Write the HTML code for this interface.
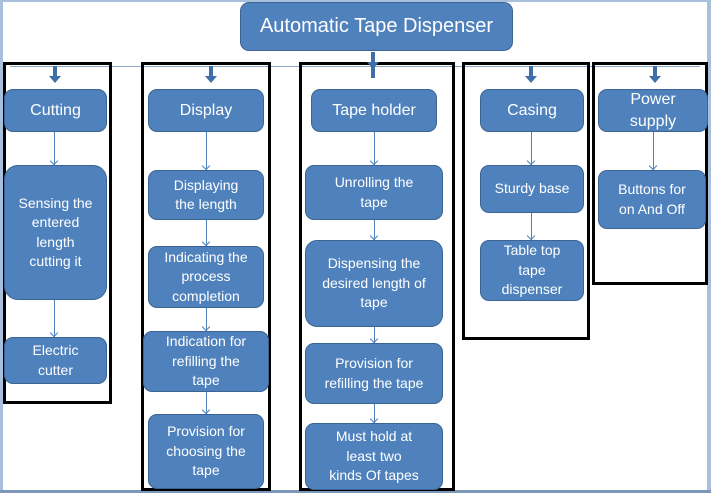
<!DOCTYPE html>
<html><head><meta charset="utf-8"><style>
body{margin:0;width:711px;height:493px;overflow:hidden;background:#fff;position:relative;font-family:"Liberation Sans",sans-serif}
.b{position:absolute;background:#4f81bd;border:1.5px solid #3b6494;border-radius:9px;color:#fff;font-size:14px;line-height:19.5px;text-align:center;display:flex;align-items:center;justify-content:center;box-sizing:border-box}
.f{position:absolute;border:3px solid #000;box-sizing:border-box}
.ar{position:absolute;width:4px;height:12px;background:#3f6ea8}
.ar:after{content:"";position:absolute;left:-4px;top:10px;border-left:6px solid transparent;border-right:6px solid transparent;border-top:7px solid #3f6ea8}
.l{position:absolute;width:1px;background:#4f81bd}
.l:after{content:"";position:absolute;left:-3px;bottom:0;width:5px;height:5px;border-right:1px solid #4f81bd;border-bottom:1px solid #4f81bd;transform:rotate(45deg);transform-origin:center;margin-bottom:1px}
</style></head><body>
<div style="position:absolute;left:0;top:0;width:3px;height:493px;background:#a9c0dc"></div>
<div style="position:absolute;left:0;top:0;width:711px;height:2px;background:#a9c0dc"></div>
<div style="position:absolute;right:0;top:0;width:4px;height:493px;background:#a9c0dc"></div>
<div style="position:absolute;left:0;bottom:0;width:711px;height:3px;background:#7d97b8"></div>
<div style="position:absolute;left:10px;top:66px;width:690px;height:1px;background:#8ea6c4"></div>
<div class="b" style="left:240px;top:2px;width:273px;height:49px;font-size:20px">Automatic Tape Dispenser</div>

<div class="f" style="left:3px;top:62px;width:109px;height:342px"></div>
<div class="f" style="left:141px;top:62px;width:130px;height:429px"></div>
<div class="f" style="left:299px;top:62px;width:156px;height:429px"></div>
<div class="f" style="left:462px;top:62px;width:128px;height:278px"></div>
<div class="f" style="left:592px;top:62px;width:116px;height:223px"></div>

<div class="ar" style="left:53px;top:66px"></div>
<div class="ar" style="left:209px;top:66px"></div>
<div class="ar" style="left:371px;top:52px;height:26px"></div>
<div class="ar" style="left:529px;top:66px"></div>
<div class="ar" style="left:653px;top:66px"></div>

<div class="b" style="left:4px;top:89px;width:103px;height:43px;font-size:16px">Cutting</div>
<div class="l" style="left:54px;top:132px;height:33px"></div>
<div class="b" style="left:4px;top:165px;width:103px;height:135px;border-radius:14px">Sensing the<br>entered<br>length<br>cutting it</div>
<div class="l" style="left:54px;top:300px;height:37px"></div>
<div class="b" style="left:4px;top:337px;width:103px;height:47px">Electric<br>cutter</div>

<div class="b" style="left:148px;top:89px;width:116px;height:43px;font-size:16px">Display</div>
<div class="l" style="left:206px;top:132px;height:38px"></div>
<div class="b" style="left:148px;top:170px;width:116px;height:50px">Displaying<br>the length</div>
<div class="l" style="left:206px;top:220px;height:26px"></div>
<div class="b" style="left:148px;top:246px;width:116px;height:62px">Indicating the<br>process<br>completion</div>
<div class="l" style="left:206px;top:308px;height:23px"></div>
<div class="b" style="left:143px;top:331px;width:126px;height:61px">Indication for<br>refilling the<br>tape</div>
<div class="l" style="left:206px;top:392px;height:22px"></div>
<div class="b" style="left:148px;top:414px;width:116px;height:75px">Provision for<br>choosing the<br>tape</div>

<div class="b" style="left:311px;top:89px;width:126px;height:43px;font-size:16px">Tape holder</div>
<div class="l" style="left:374px;top:132px;height:33px"></div>
<div class="b" style="left:305px;top:165px;width:138px;height:55px;align-items:flex-start;padding-top:7px">Unrolling the<br>tape</div>
<div class="l" style="left:374px;top:220px;height:20px"></div>
<div class="b" style="left:305px;top:240px;width:138px;height:87px;border-radius:12px">Dispensing the<br>desired length of<br>tape</div>
<div class="l" style="left:374px;top:327px;height:16px"></div>
<div class="b" style="left:305px;top:343px;width:138px;height:61px">Provision for<br>refilling the tape</div>
<div class="l" style="left:374px;top:404px;height:19px"></div>
<div class="b" style="left:305px;top:423px;width:138px;height:67px">Must hold at<br>least two<br>kinds Of tapes</div>

<div class="b" style="left:480px;top:89px;width:104px;height:43px;font-size:16px">Casing</div>
<div class="l" style="left:531px;top:132px;height:33px"></div>
<div class="b" style="left:480px;top:165px;width:104px;height:48px">Sturdy base</div>
<div class="l" style="left:531px;top:213px;height:27px"></div>
<div class="b" style="left:480px;top:240px;width:104px;height:61px">Table top<br>tape<br>dispenser</div>

<div class="b" style="left:598px;top:89px;width:110px;height:43px;font-size:16px;line-height:22px">Power<br>supply</div>
<div class="l" style="left:653px;top:132px;height:38px"></div>
<div class="b" style="left:598px;top:170px;width:108px;height:59px">Buttons for<br>on And Off</div>
</body></html>
